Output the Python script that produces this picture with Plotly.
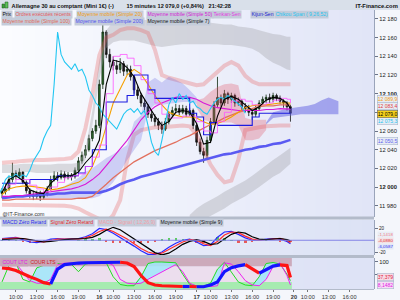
import plotly.graph_objects as go

W, H = 400, 300
XR = 374 / W


def py(p):
    return 1 - p / H


# ------------------------------------------------------------------ data
# x unit = trading hour, 0 = day 15 08:00 (14 trading hours per day)
bar_hours = [i * 0.5 for i in range(84)]
first_open = 11993
closes = [
    11995, 11998, 12008, 12015, 12012, 12016, 12005, 11996, 11992, 11990, 11993, 11989, 11992, 11998,
    12008, 12012, 12010, 12014, 12010, 12013, 12011, 12018, 12028, 12034, 12040, 12052, 12060, 12066,
    12110, 12166, 12142, 12134, 12130, 12126, 12132, 12124, 12126, 12118, 12104, 12098, 12090, 12086,
    12078, 12074, 12070, 12066, 12062, 12070, 12078, 12082, 12084, 12080, 12084, 12078, 12082, 12066,
    12048, 12038, 12034, 12050, 12070, 12088, 12096, 12090, 12100, 12094, 12098, 12090, 12092, 12086,
    12084, 12080, 12078, 12084, 12090, 12094, 12096, 12094, 12098, 12095, 12092, 12090, 12086, 12079]
highs = [
    11999, 12003, 12012, 12026, 12018, 12020, 12017, 12007, 11999, 11996, 11996, 11996, 11995, 12001,
    12012, 12017, 12016, 12018, 12017, 12016, 12015, 12021, 12032, 12038, 12045, 12056, 12063, 12072,
    12115, 12176, 12168, 12148, 12140, 12136, 12138, 12135, 12131, 12130, 12120, 12108, 12101, 12094,
    12089, 12082, 12078, 12074, 12070, 12074, 12081, 12086, 12089, 12088, 12088, 12087, 12085, 12084,
    12068, 12052, 12042, 12054, 12074, 12092, 12118, 12099, 12104, 12102, 12101, 12100, 12096, 12094,
    12090, 12088, 12083, 12088, 12093, 12097, 12099, 12100, 12101, 12100, 12098, 12094, 12092, 12088]
lows = [
    11988, 11992, 11996, 12005, 12008, 12009, 12003, 11993, 11988, 11986, 11987, 11985, 11987, 11990,
    11996, 12006, 12006, 12008, 12007, 12008, 12007, 12009, 12016, 12025, 12031, 12038, 12049, 12057,
    12063, 12105, 12138, 12128, 12125, 12121, 12122, 12119, 12120, 12114, 12100, 12094, 12086, 12080,
    12074, 12070, 12065, 12061, 12057, 12060, 12067, 12075, 12079, 12077, 12078, 12075, 12076, 12062,
    12044, 12035, 12026, 12030, 12047, 12067, 12085, 12086, 12087, 12089, 12090, 12086, 12087, 12082,
    12080, 12076, 12072, 12075, 12082, 12088, 12090, 12090, 12091, 12092, 12089, 12085, 12082, 12070]

line_hours = list(range(42)) + [41.5]
sma7 = [11994, 12008, 12012, 12007, 11997, 11994, 11993, 12004, 12011, 12012, 12012, 12016, 12026, 12034,
        12050, 12110, 12136, 12134, 12128, 12118, 12100, 12088, 12076, 12066, 12070, 12080, 12082, 12080,
        12068, 12046, 12048, 12076, 12094, 12097, 12094, 12088, 12082, 12086, 12093, 12096, 12095, 12090, 12084]
tenkan = [12000, 12003, 12008, 12008, 12002, 11998, 11995, 12000, 12005, 12010, 12012, 12014, 12022, 12032,
          12045, 12100, 12140, 12142, 12138, 12130, 12115, 12100, 12090, 12078, 12074, 12074, 12076, 12076,
          12070, 12060, 12058, 12070, 12080, 12092, 12094, 12092, 12088, 12088, 12090, 12093, 12095, 12094, 12090]
sma20 = [11992, 11998, 12000, 12001, 12001, 12000, 11999, 11997, 11998, 12000, 12003, 12005, 12010, 12022,
         12040, 12065, 12090, 12105, 12120, 12126, 12121, 12110, 12098, 12088, 12080, 12077, 12075, 12075,
         12074, 12070, 12067, 12068, 12071, 12075, 12080, 12085, 12087, 12088, 12088, 12089, 12090, 12090, 12089.9]
sma50 = [11990, 11990, 11991, 11991, 11992, 11993, 11994, 11995, 11996, 11997, 11998, 12000, 12003, 12008,
         12014, 12023, 12032, 12040, 12050, 12061, 12072, 12080, 12086, 12090, 12093, 12096, 12097, 12096,
         12094, 12090, 12087, 12085, 12084, 12083, 12082, 12082, 12082, 12082, 12083, 12083, 12084, 12084, 12083.4]
sma100 = [11986, 11986, 11987, 11987, 11987, 11987, 11987, 11987, 11987, 11987, 11987, 11988, 11988, 11990,
          11996, 12003, 12010, 12016, 12022, 12027, 12031, 12035, 12039, 12042, 12045, 12048, 12052, 12055,
          12059, 12063, 12067, 12070, 12074, 12077, 12080, 12082, 12084, 12086, 12087, 12087, 12088, 12088, 12088]
sma200 = [11988, 11989, 11990, 11990, 11991, 11991, 11992, 11992, 11993, 11993, 11994, 11994, 11994, 11994,
          11994, 11996, 11999, 12003, 12006, 12008, 12011, 12013, 12015, 12017, 12019, 12021, 12023, 12025,
          12027, 12029, 12031, 12033, 12035, 12036, 12038, 12040, 12041, 12043, 12044, 12046, 12047, 12049, 12050.5]
kijun = [12004, 12004, 12004, 12004, 12008, 12008, 12008, 12008, 12012, 12012, 12012, 12015, 12022, 12040,
         12040, 12091, 12091, 12091, 12098, 12120, 12120, 12104, 12095, 12095, 12095, 12095, 12095, 12079,
         12075, 12056, 12069, 12066, 12066, 12066, 12066, 12066, 12075, 12079, 12079, 12079, 12079, 12079, 12079]
chikou_shift = 6.5

# translucent envelopes
red_up = [12026, 12026, 12027, 12028, 12029, 12029, 12029, 12029, 12029, 12030, 12031, 12038, 12063, 12099,
          12141, 12160, 12163, 12168, 12170, 12170, 12168, 12165, 12147, 12120, 12117, 12115, 12112, 12111,
          12109, 12110, 12117, 12123, 12130, 12134, 12130, 12119, 12113, 12110, 12110, 12109, 12109, 12110, 12110]
red_lo = [11981, 11981, 11981, 11981, 11981, 11981, 11980, 11980, 11980, 11980, 11979, 11977, 11973, 11969,
          11965, 11962, 11970, 11986, 12029, 12056, 12061, 12063, 12064, 12064, 12065, 12066, 12066, 12065,
          12056, 12040, 12024, 12013, 12005, 12007, 12029, 12061, 12063, 12064, 12065, 12066, 12066, 12066, 12066]
gray_up_top = [12024, 12024, 12024, 12025, 12025, 12024, 12024, 12024, 12025, 12025, 12025, 12026, 12040, 12082,
               12136, 12168, 12177, 12179, 12179, 12179, 12179, 12179, 12179, 12179, 12179, 12179, 12178, 12177,
               12177, 12177, 12176, 12175, 12174, 12174, 12172, 12171, 12170, 12168, 12166, 12164, 12163, 12161, 12161]
gray_up_bot = [12015, 12015, 12015, 12016, 12016, 12015, 12015, 12015, 12016, 12016, 12016, 12017, 12029, 12066,
               12115, 12149, 12155, 12157, 12157, 12157, 12155, 12153, 12151, 12150, 12151, 12152, 12153, 12153,
               12153, 12153, 12153, 12153, 12152, 12152, 12151, 12150, 12148, 12144, 12138, 12133, 12130, 12126, 12125]
gray_lo_hours = [27, 28, 29, 30, 31, 32, 33, 34, 35, 36, 37, 38, 39, 40, 41, 41.5]
gray_lo_top = [11970, 11977, 11982, 11986, 11990, 11995, 11999, 12003, 12007, 12012, 12018, 12024, 12029, 12034, 12040, 12042]
gray_lo_bot = [11954, 11959, 11965, 11969, 11973, 11977, 11982, 11986, 11990, 11995, 12000, 12005, 12011, 12015, 12022, 12025]

# ichimoku cloud
kumo_hours = list(range(6, 29))
kumo_top = [11991, 11995, 11997, 12001, 12005, 12010, 12016, 12020, 12026, 12031, 12035, 12040, 12045, 12070,
            12077, 12112, 12117, 12112, 12118, 12115, 12111, 12104, 12096]
kumo_bot = [11988, 11988, 11988, 11988, 11988, 11988, 11988, 11988, 11990, 11997, 12005, 12016, 12029, 12040,
            12050, 12082, 12088, 12088, 12089, 12090, 12091, 12091, 12089]
kumo_red_hours = list(range(28, 39))
kumo_red_top = [12093, 12095, 12102, 12107, 12110, 12111, 12109, 12074, 12072, 12072, 12072]
kumo_red_bot = [12085, 12072, 12070, 12069, 12069, 12069, 12066, 12050, 12050, 12052, 12061]
kumo_fwd_hours = [38, 39, 40, 41, 42, 43, 44, 45, 46, 47, 48, 48.4]
kumo_fwd_top = [12069, 12080, 12082, 12084, 12085, 12086, 12087, 12089, 12093, 12096, 12093, 12092]
kumo_fwd_bot = [12067, 12074, 12075, 12076, 12077, 12078, 12078, 12078, 12078, 12078, 12078, 12078]

# MACD panel
macd = [3, 4, 5, 1, -3, -4, -2, 2, 3, 2, 2, 3, 6, 11, 20, 18, 12, 5, -2, -10, -18, -24, -24, -20, -12, -5, 0,
        2, -3, -9, -8, 5, 14, 15, 10, 4, 0, 0, 2, 3, 2, -2, -6.06]
signal = [2, 3, 4, 3, 0, -2, -3, 0, 2, 2, 2, 2, 4, 8, 15, 19, 15, 9, 2, -6, -14, -20, -23, -22, -16, -9, -3,
          1, 0, -6, -9, -2, 9, 14, 13, 7, 2, 0, 1, 3, 3, 0, -4.09]
macd_ma9 = [1, 2, 3, 3, 1, -1, -3, -2, 0, 1, 2, 2, 3, 5, 10, 17, 22, 18, 10, 2, -6, -14, -21, -25, -22, -15, -7,
            -2, 1, -2, -7, -6, 2, 10, 14, 12, 6, 2, 1, 2, 3, 1, -1.14]

# stochastic panel
sto_slow = [75, 72, 65, 52, 40, 30, 17, 12, 70, 88, 92, 94, 95, 96, 97, 97, 97, 97, 94, 80, 45, 17, 8, 5, 4, 3,
            2, 2, 1, 1, 8, 20, 60, 76, 83, 88, 72, 54, 68, 82, 87, 84, 37.4]
sto_green = [20, 85, 95, 30, 20, 75, 85, 90, 92, 90, 88, 60, 90, 95, 97, 95, 40, 10, 5, 5, 40, 92, 98, 98, 97,
             95, 50, 10, 5, 3, 15, 70, 97, 60, 20, 8, 5, 40, 92, 96, 90, 50, 25]
sto_mag = [95, 95, 92, 60, 25, 15, 15, 30, 88, 93, 94, 90, 93, 96, 97, 98, 85, 30, 15, 12, 15, 30, 45, 60, 75,
           88, 60, 15, 3, 2, 2, 5, 95, 90, 60, 25, 8, 5, 30, 80, 95, 45, 8.1]

time_ticks = [2, 5, 8, 11, 14, 16, 19, 22, 25, 28, 30, 33, 36, 39, 42, 44, 47, 50]
time_labels = ["10:00", "13:00", "16:00", "19:00", "<b>16</b>", "10:00", "13:00", "16:00", "19:00", "<b>17</b>",
               "10:00", "13:00", "16:00", "19:00", "<b>20</b>", "10:00", "13:00", "16:00"]
price_ticks = [11980, 12000, 12020, 12040, 12060, 12080, 12100, 12120, 12140, 12160, 12180]
price_labels = ["11 980", "<b>12 000</b>", "12 020", "12 040", "12 060", "", "<b>12 100</b>",
                "12 120", "12 140", "12 160", "12 180"]

# ------------------------------------------------------------------ figure
FONT = "Liberation Sans, Arial, sans-serif"
fig = go.Figure()


def poly(xs, top, bot, color, yaxis="y"):
    fig.add_trace(go.Scatter(x=list(xs) + list(xs)[::-1], y=list(top) + list(bot)[::-1], mode="lines",
                             fill="toself", fillcolor=color, line=dict(width=0), hoverinfo="skip",
                             xaxis="x", yaxis=yaxis))


def line(xs, ys, color, width=1.0, yaxis="y", shape="linear"):
    fig.add_trace(go.Scatter(x=xs, y=ys, mode="lines", line=dict(color=color, width=width, shape=shape),
                             hoverinfo="skip", xaxis="x", yaxis=yaxis))


# envelopes and clouds
poly(line_hours, gray_up_top, gray_up_bot, "rgba(160,160,165,0.36)")
poly(gray_lo_hours, gray_lo_top, gray_lo_bot, "rgba(160,160,165,0.36)")
line(line_hours, red_up, "rgba(232,90,90,0.30)", 4)
line(line_hours, red_lo, "rgba(232,90,90,0.30)", 4)
poly(kumo_hours, kumo_top, kumo_bot, "rgba(95,95,225,0.26)")
poly(kumo_red_hours, kumo_red_top, kumo_red_bot, "rgba(225,80,100,0.30)")
poly(kumo_fwd_hours, kumo_fwd_top, kumo_fwd_bot, "rgba(95,95,225,0.50)")

# moving averages under the candles
line(line_hours, sma200, "#5a5af2", 2.6)
line(line_hours, sma100, "#e2705e", 1.3)
line(line_hours, sma50, "#d81ad8", 1.1)
line(line_hours, sma20, "#f5a000", 1.1)
line(line_hours, kijun, "#1c1ce0", 1.1, shape="hv")
line(line_hours, tenkan, "#ff55ff", 0.8, shape="hv")
line([h - chikou_shift for h in bar_hours], closes, "#22c6f2", 1.1)

opens = [first_open] + closes[:-1]
fig.add_trace(go.Candlestick(
    x=bar_hours, open=opens, high=highs, low=lows, close=closes,
    increasing=dict(line=dict(color="#0f2a0f", width=0.8), fillcolor="#2f6f2f"),
    decreasing=dict(line=dict(color="#111111", width=0.8), fillcolor="#1a1a1a"),
    whiskerwidth=0, hoverinfo="skip", xaxis="x", yaxis="y"))
line(line_hours, sma7, "#000000", 1.1)

# MACD
hist = [a - b for a, b in zip(macd, signal)]
fig.add_trace(go.Bar(x=line_hours, y=hist, width=0.35,
                     marker=dict(color=["#5ccf5c" if v >= 0 else "#e85a5a" for v in hist], line=dict(width=0)),
                     hoverinfo="skip", xaxis="x", yaxis="y2"))
line(line_hours, macd, "#2a2aff", 1.2, yaxis="y2")
line(line_hours, signal, "#ff2a2a", 1.2, yaxis="y2")
line(line_hours, macd_ma9, "#000000", 1.2, yaxis="y2")

# stochastics
upper = [max(g, m) for g, m in zip(sto_green, sto_mag)]
line(line_hours, sto_mag, "rgba(0,0,0,0)", 0.1, yaxis="y3")
fig.add_trace(go.Scatter(x=line_hours, y=upper, mode="lines", line=dict(width=0), fill="tonexty",
                         fillcolor="rgba(160,232,250,0.85)", hoverinfo="skip", xaxis="x", yaxis="y3"))
line(line_hours, sto_green, "#22dd22", 1.0, yaxis="y3")
line(line_hours, sto_mag, "#ee22ee", 1.0, yaxis="y3")

start = 0
cur = sto_slow[1] >= sto_slow[0]
for i in range(2, len(sto_slow) + 1):
    up = sto_slow[i] >= sto_slow[i - 1] if i < len(sto_slow) else None
    if up != cur:
        line(line_hours[start:i], sto_slow[start:i], "#1414ff" if cur else "#ff1414", 3.2, yaxis="y3")
        start = i - 1
        cur = up

# ------------------------------------------------------------------ decoration
shapes = []


def hgrad(y0p, y1p, c0, c1, n=32):
    for i in range(n):
        t = i / (n - 1)
        c = tuple(round(c0[k] + (c1[k] - c0[k]) * t) for k in range(3))
        xa = XR * i / n
        xb = XR * (i + 1) / n + 0.003
        shapes.append(dict(type="rect", xref="paper", yref="paper", x0=xa, x1=min(xb, XR), y0=y0p, y1=y1p,
                           fillcolor="rgb(%d,%d,%d)" % c, line=dict(width=0), layer="below"))


hgrad(py(217), py(10), (251, 252, 255), (225, 229, 247))
hgrad(py(255), py(219.5), (240, 242, 252), (220, 226, 245))
hgrad(py(289), py(258), (226, 230, 247), (222, 227, 246))

# stochastic zones (only over the data span)
for y0, y1, col in [(80, 113.7, "#ccaabb"), (20, 80, "#ecdeee"), (-7.8, 20, "#a6ebb0")]:
    shapes.append(dict(type="rect", xref="x", yref="y3", x0=-0.3, x1=41.7, y0=y0, y1=y1, fillcolor=col,
                       line=dict(width=0), layer="below"))

# header bar
shapes.append(dict(type="rect", xref="paper", yref="paper", x0=0, x1=1, y0=py(10), y1=1,
                   fillcolor="#d9e0ea", line=dict(width=0)))
# separators
for a, b in [(216.5, 219.5), (255, 258), (289, 290)]:
    shapes.append(dict(type="rect", xref="paper", yref="paper", x0=0, x1=XR, y0=py(b), y1=py(a),
                       fillcolor="#b3bbca", line=dict(width=0)))
# MACD zero line
shapes.append(dict(type="line", xref="paper", yref="y2", x0=0, x1=XR, y0=0, y1=0,
                   line=dict(color="#8484e6", width=1)))
# icon
shapes.append(dict(type="rect", xref="paper", yref="paper", x0=2 / W, x1=4.5 / W, y0=py(8), y1=py(4),
                   fillcolor="#3aa03a", line=dict(color="#1d5a1d", width=0.5)))
shapes.append(dict(type="rect", xref="paper", yref="paper", x0=5 / W, x1=8 / W, y0=py(8), y1=py(2),
                   fillcolor="#5cc05c", line=dict(color="#1d5a1d", width=0.5)))

ann = []


def txt(xpx, ypx, s, color, size=5.3, bg=None, xanchor="left", border=None, pad=0.6, bw=0.6):
    d = dict(x=xpx / W, y=py(ypx), xref="paper", yref="paper", text=s, showarrow=False, xanchor=xanchor,
             yanchor="middle", font=dict(family=FONT, size=size, color=color), borderpad=pad)
    if bg:
        d["bgcolor"] = bg
    if border:
        d["bordercolor"] = border
        d["borderwidth"] = bw
    ann.append(d)


# header
txt(10, 5, "<b>Allemagne 30 au comptant (Mini 1€) (-)</b>", "#111111", 5.6)
txt(125, 5, "<b>15 minutes</b>", "#111111", 5.6)
txt(156, 5, "<b>12 079,0 (+0,84%)</b>", "#111111", 5.6)
txt(207, 5, "<b>21:42:28</b>", "#111111", 5.6)
txt(399, 5, "<b>IT-Finance.com</b>", "#111111", 5.8, xanchor="right")

LBG = "#c4ccda"
LF = 5.1
row1 = [(1, "Prix", "#111111"), (13.5, "Ordres exécutés récents", "#e45a5a"),
        (76, "Moyenne mobile (Simple 20)", "#f29c10"), (146, "Moyenne mobile (Simple 50)", "#d41ad4"),
        (212, "Tenkan-Sen", "#e23ae2"), (249.5, "Kijun-Sen", "#1c1cd0"), (274, "Chikou Span ( 9,26,52)", "#1ec4f0")]
for x, s, c in row1:
    txt(x, 14.5, s, c, LF, bg=LBG, pad=0.4)
row2 = [(1, "Moyenne mobile (Simple 100)", "#e06a58"), (74, "Moyenne mobile (Simple 200)", "#4f4ff0"),
        (146, "Moyenne mobile (Simple 7)", "#111111")]
for x, s, c in row2:
    txt(x, 21.7, s, c, LF, bg=LBG, pad=0.4)

txt(1, 213, "@IT-Finance.com", "#333333", 5.3)
macd_leg = [(1, "MACD Zéro Retard", "#2a2af0"), (48.5, "Signal Zéro Retard", "#e42a2a"),
            (96.5, "MACD - Signal ( 12,26,9)", "#f3a0a8"), (158.5, "Moyenne mobile (Simple 9)", "#111111")]
for x, s, c in macd_leg:
    txt(x, 222.8, s, c, LF, bg=LBG, pad=0.4)
txt(1, 262.3, "COUT LTC", "#e21ae2", LF, bg="#c8a6b8", pad=0.4)
txt(28.5, 262.3, "COUR LTS", "#d01c1c", LF, bg="#c8a6b8", pad=0.4)

# value boxes on the right axis
BX = 376.5
BF = 5.0
txt(BX, 98.8, "12 089,9", "#f29c10", BF, bg="#e7ebf3", border="#a9b7cd", pad=0.2)
txt(BX, 106.2, "12 083,4", "#e03a3a", BF, bg="#e7ebf3", border="#a9b7cd", pad=0.2)
txt(BX, 121.0, "12 075,3", "#1ec4f0", BF, bg="#e7ebf3", border="#a9b7cd", pad=0.2)
txt(BX, 113.6, "12 079,0", "#000000", BF, bg="#f5d21c", border="#6a6a6a", pad=0.2)
txt(BX, 140.7, "12 050,5", "#5c5cf0", BF, bg="#e7ebf3", border="#a9b7cd", pad=0.2)
txt(BX, 234.5, "-1,1418", "#f07c84", 4.4, bg="#e9edf5", pad=0)
txt(BX, 240.3, "-4,0880", "#e42a2a", 4.4, bg="#f3e2e6", pad=0)
txt(BX, 246.1, "-6,0587", "#2a2af0", 4.4, bg="#e4e9f6", pad=0)
txt(BX, 276.8, "37,379", "#e21c3c", BF, bg="#f7dbe6", border="#a9b7cd", pad=0.2)
txt(BX, 284.6, "8,1482", "#e21ae2", BF, bg="#f7dcf6", border="#a9b7cd", pad=0.2)

AX = dict(side="right", anchor="x", ticks="outside", ticklen=3, tickcolor="#6b7488", showline=True,
          linecolor="#9aa4ba", linewidth=1, showgrid=False, zeroline=False,
          tickfont=dict(family=FONT, size=5.8, color="#222222"))
AX2 = dict(AX, tickfont=dict(family=FONT, size=4.6, color="#222222"))

# MACD scale: +20 at y=228.5 px, -20 at y=252 px
MACD_TOP = 35.3
MACD_BOT = -25.1

fig.update_layout(
    width=W, height=H, margin=dict(l=0, r=0, t=0, b=0), autosize=False,
    paper_bgcolor="#f4f6fb", plot_bgcolor="rgba(0,0,0,0)", showlegend=False,
    font=dict(family=FONT), bargap=0, shapes=shapes, annotations=ann,
    xaxis=dict(domain=[0, XR], range=[-0.29, 53.52], anchor="y3", tickvals=time_ticks, ticktext=time_labels,
               tickangle=0, ticks="outside", ticklen=2, tickcolor="#777777", showgrid=False, zeroline=False,
               showline=False, rangeslider=dict(visible=False),
               tickfont=dict(family=FONT, size=5.6, color="#333333")),
    yaxis=dict(domain=[py(217), py(10)], range=[11967.9, 12189.6], tickvals=price_ticks,
               ticktext=price_labels, **AX),
    yaxis2=dict(domain=[py(255), py(219.5)], range=[MACD_BOT, MACD_TOP], tickvals=[20, -20],
                ticktext=["20", "-20"], **AX2),
    yaxis3=dict(domain=[py(289), py(258)], range=[-7.8, 113.7], tickvals=[100, 50], ticktext=["100", ""],
                **AX),
)

fig.write_html("out.html")
